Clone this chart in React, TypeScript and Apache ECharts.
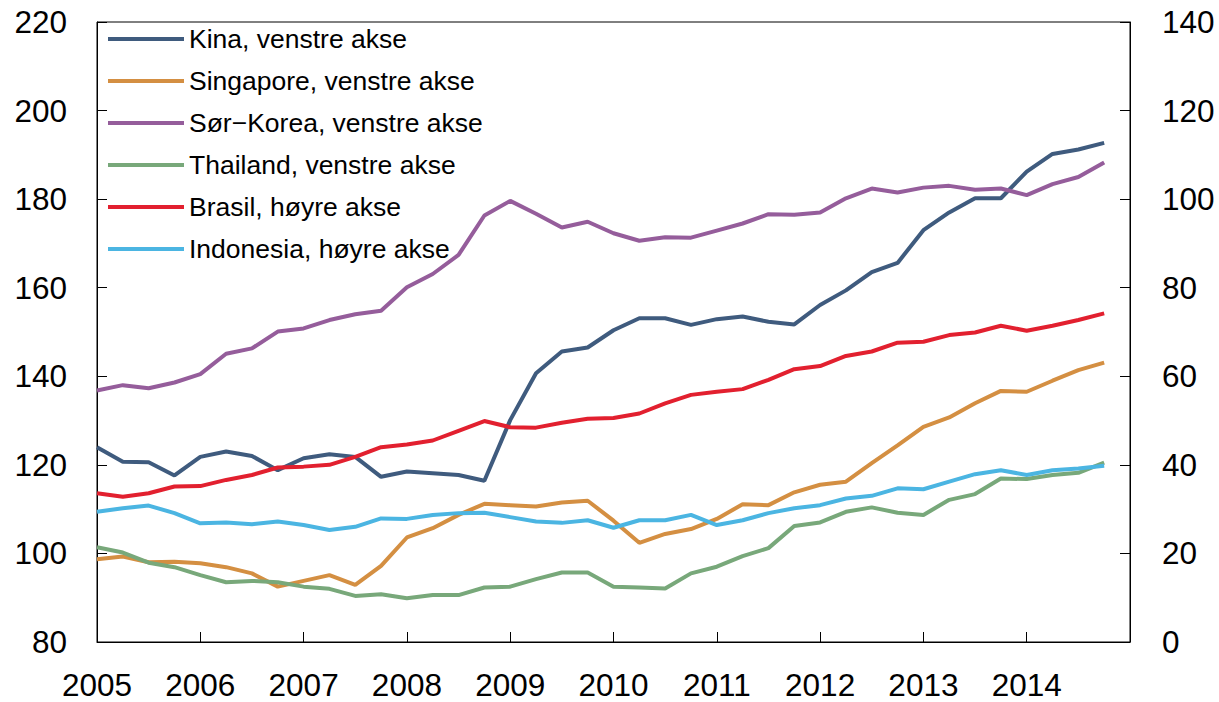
import React, { useEffect, useRef } from "react";
import * as echarts from "echarts";

const years = [2005, 2006, 2007, 2008, 2009, 2010, 2011, 2012, 2013, 2014, 2015];
const quarters = ["Q1", "Q2", "Q3", "Q4"];
// quarterly categories 2005Q1 .. 2015Q1 (axis extends to start of 2015)
const categories: string[] = [];
years.forEach((y) => {
  quarters.forEach((q) => {
    if (y < 2015 || q === "Q1") categories.push(`${y}${q}`);
  });
});

const leftTicks = { min: 80, max: 220, interval: 20 };
const rightTicks = { min: 0, max: 140, interval: 20 };

const kina = [
  124.0, 120.7, 120.6, 117.6, 121.8, 123.0, 122.0, 118.8, 121.5, 122.4,
  121.8, 117.3, 118.5, 118.1, 117.7, 116.4, 130.1, 140.7, 145.6, 146.5,
  150.4, 153.1, 153.1, 151.6, 152.9, 153.5, 152.3, 151.7, 156.1, 159.4,
  163.5, 165.6, 173.0, 177.0, 180.2, 180.2, 186.2, 190.2, 191.2, 192.7,
];
const singapore = [
  98.7, 99.3, 98.0, 98.1, 97.8, 96.9, 95.5, 92.5, 93.8, 95.1,
  92.9, 97.2, 103.6, 105.7, 108.7, 111.2, 110.9, 110.6, 111.5, 111.9,
  107.4, 102.4, 104.4, 105.5, 107.8, 111.1, 110.9, 113.8, 115.5, 116.2,
  120.4, 124.4, 128.6, 130.7, 133.9, 136.7, 136.5, 139.0, 141.4, 143.1,
];
const sorKorea = [
  136.8, 138.0, 137.3, 138.6, 140.5, 145.1, 146.3, 150.1, 150.8, 152.7,
  154.0, 154.8, 160.1, 163.1, 167.4, 176.3, 179.6, 176.7, 173.6, 174.9,
  172.3, 170.6, 171.4, 171.3, 172.9, 174.5, 176.6, 176.5, 177.0, 180.2,
  182.4, 181.5, 182.6, 183.0, 182.1, 182.4, 180.9, 183.4, 185.0, 188.3,
];
const thailand = [
  101.4, 100.2, 97.9, 96.9, 95.1, 93.5, 93.8, 93.5, 92.5, 92.0,
  90.4, 90.8, 89.9, 90.6, 90.6, 92.3, 92.5, 94.2, 95.7, 95.7,
  92.5, 92.3, 92.1, 95.5, 97.0, 99.4, 101.2, 106.2, 107.0, 109.4,
  110.4, 109.2, 108.7, 112.1, 113.4, 116.9, 116.8, 117.7, 118.2, 120.5,
];
const brasil = [
  33.6, 32.8, 33.6, 35.1, 35.2, 36.6, 37.7, 39.4, 39.6, 40.0,
  41.8, 44.0, 44.6, 45.5, 47.7, 49.9, 48.5, 48.4, 49.5, 50.4,
  50.6, 51.6, 53.9, 55.8, 56.5, 57.1, 59.2, 61.6, 62.3, 64.6,
  65.6, 67.6, 67.8, 69.3, 69.9, 71.4, 70.3, 71.4, 72.7, 74.2,
];
const indonesia = [
  29.4, 30.2, 30.8, 29.1, 26.8, 27.0, 26.6, 27.2, 26.4, 25.3,
  26.0, 27.9, 27.8, 28.7, 29.1, 29.2, 28.2, 27.2, 26.9, 27.5,
  25.8, 27.5, 27.5, 28.7, 26.4, 27.5, 29.1, 30.2, 30.9, 32.4,
  33.0, 34.7, 34.5, 36.2, 37.9, 38.8, 37.7, 38.8, 39.2, 39.8,
];

const seriesDefs = [
  { name: "Kina, venstre akse", data: kina, axis: 0, color: "#3F5B7E" },
  { name: "Singapore, venstre akse", data: singapore, axis: 0, color: "#D48F42" },
  { name: "Sør\u2212Korea, venstre akse", data: sorKorea, axis: 0, color: "#955D9B" },
  { name: "Thailand, venstre akse", data: thailand, axis: 0, color: "#78A87A" },
  { name: "Brasil, høyre akse", data: brasil, axis: 1, color: "#E2202F" },
  { name: "Indonesia, høyre akse", data: indonesia, axis: 1, color: "#4BB5E2" },
];

const FONT = "'Liberation Sans', Arial, Helvetica, sans-serif";

export default function App() {
  const ref = useRef<HTMLDivElement>(null);
  useEffect(() => {
    if (!ref.current) return;
    const chart = echarts.init(ref.current, undefined, { renderer: "svg" });
    const axisLabelStyle = { color: "#000", fontSize: 31.5, fontFamily: FONT };
    chart.setOption({
      animation: false,
      backgroundColor: "#fff",
      textStyle: { fontFamily: FONT },
      grid: {
        left: 97,
        right: 89,
        top: 22,
        bottom: 60,
        show: true,
        borderColor: "#000",
        borderWidth: 1,
        backgroundColor: "transparent",
      },
      legend: {
        orient: "vertical",
        left: 108,
        top: 18,
        padding: 0,
        itemGap: 0,
        itemWidth: 76,
        itemHeight: 4,
        icon: "rect",
        textStyle: { color: "#000", fontSize: 26.5, lineHeight: 42, fontFamily: FONT },
        data: seriesDefs.map((s) => s.name),
      },
      xAxis: {
        type: "category",
        data: categories,
        boundaryGap: false,
        axisLine: { lineStyle: { color: "#000", width: 1 } },
        axisTick: {
          inside: true,
          length: 10,
          lineStyle: { color: "#000" },
          interval: (i: number) => i % 4 === 0,
        },
        axisLabel: {
          ...axisLabelStyle,
          margin: 27,
          interval: (i: number) => i % 4 === 0 && i < 40,
          formatter: (v: string) => v.slice(0, 4),
        },
        splitLine: { show: false },
      },
      yAxis: [
        {
          type: "value",
          position: "left",
          min: leftTicks.min,
          max: leftTicks.max,
          interval: leftTicks.interval,
          axisLine: { show: true, lineStyle: { color: "#000" } },
          axisTick: { show: true, inside: true, length: 10, lineStyle: { color: "#000" } },
          axisLabel: { ...axisLabelStyle, margin: 30 },
          splitLine: { show: false },
        },
        {
          type: "value",
          position: "right",
          min: rightTicks.min,
          max: rightTicks.max,
          interval: rightTicks.interval,
          axisLine: { show: true, lineStyle: { color: "#000" } },
          axisTick: { show: true, inside: true, length: 10, lineStyle: { color: "#000" } },
          axisLabel: { ...axisLabelStyle, margin: 32 },
          splitLine: { show: false },
        },
      ],
      series: seriesDefs.map((s) => ({
        name: s.name,
        type: "line",
        yAxisIndex: s.axis,
        data: s.data,
        showSymbol: false,
        symbol: "none",
        color: s.color,
        lineStyle: { color: s.color, width: 4 },
      })),
    });
    return () => chart.dispose();
  }, []);
  return (
    <div
      ref={ref}
      style={{ position: "fixed", left: 0, top: 0, width: 1219, height: 702, background: "#fff" }}
    />
  );
}
